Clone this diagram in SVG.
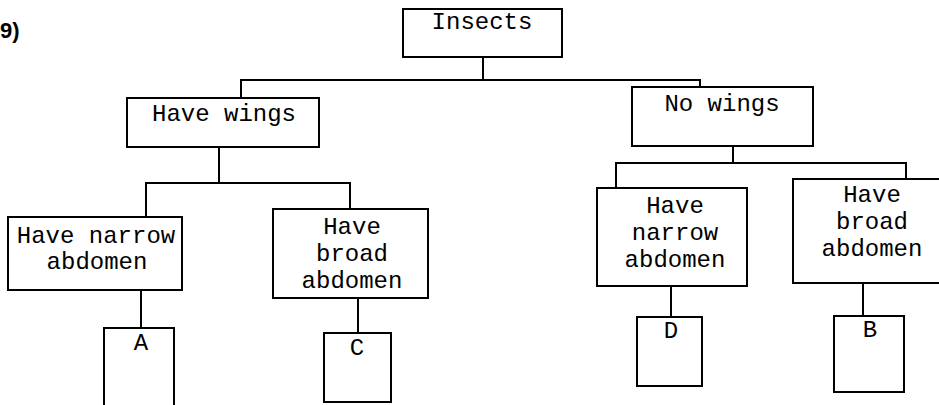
<svg xmlns="http://www.w3.org/2000/svg" width="939" height="405" viewBox="0 0 939 405">
<style>
.box{fill:none;stroke:#000;stroke-width:2}
.t{font-family:"Liberation Mono","Courier New",monospace;font-size:24px;fill:#000;text-anchor:middle}
.c line{stroke:#000;stroke-width:2}
</style>
<rect width="939" height="405" fill="#fff"/>
<text x="0" y="38" font-family="Liberation Sans, Arial, sans-serif" font-size="22" font-weight="bold">9)</text>
<g class="c" id="connectors">
<line x1="483" y1="57" x2="483" y2="80"/>
<line x1="240" y1="80" x2="701" y2="80"/>
<line x1="241" y1="80" x2="241" y2="98"/>
<line x1="700" y1="80" x2="700" y2="87"/>
<line x1="219" y1="147" x2="219" y2="183"/>
<line x1="145" y1="183" x2="351" y2="183"/>
<line x1="146" y1="183" x2="146" y2="217"/>
<line x1="350" y1="183" x2="350" y2="209"/>
<line x1="141" y1="290" x2="141" y2="328"/>
<line x1="358" y1="298" x2="358" y2="333"/>
<line x1="733" y1="146" x2="733" y2="163"/>
<line x1="615" y1="163" x2="907" y2="163"/>
<line x1="616" y1="163" x2="616" y2="188"/>
<line x1="906" y1="163" x2="906" y2="179"/>
<line x1="671" y1="286" x2="671" y2="317"/>
<line x1="863" y1="283" x2="863" y2="316"/>
</g>
<g id="insects"><rect class="box" x="403" y="9" width="159" height="48"/><text class="t" x="482" y="29">Insects</text></g>
<g id="have-wings"><rect class="box" x="127" y="98" width="192" height="49"/><text class="t" x="224" y="121">Have wings</text></g>
<g id="no-wings"><rect class="box" x="632" y="87" width="181" height="59"/><text class="t" x="722" y="111">No wings</text></g>
<g id="narrow-left"><rect class="box" x="8" y="217" width="174" height="73"/><text class="t" x="96" y="243">Have narrow</text><text class="t" x="97" y="269">abdomen</text></g>
<g id="broad-left"><rect class="box" x="273" y="209" width="155" height="89"/><text class="t" x="352" y="234">Have</text><text class="t" x="352" y="261">broad</text><text class="t" x="352" y="288">abdomen</text></g>
<g id="narrow-right"><rect class="box" x="597" y="188" width="150" height="98"/><text class="t" x="675" y="213">Have</text><text class="t" x="675" y="240">narrow</text><text class="t" x="675" y="267">abdomen</text></g>
<g id="broad-right"><rect class="box" x="793" y="179" width="160" height="104"/><text class="t" x="872" y="202">Have</text><text class="t" x="872" y="229">broad</text><text class="t" x="872" y="256">abdomen</text></g>
<g id="A"><rect class="box" x="104" y="328" width="70" height="90"/><text class="t" x="141" y="350">A</text></g>
<g id="C"><rect class="box" x="324" y="333" width="67" height="69"/><text class="t" x="357" y="355">C</text></g>
<g id="D"><rect class="box" x="637" y="317" width="65" height="69"/><text class="t" x="671" y="338">D</text></g>
<g id="B"><rect class="box" x="834" y="316" width="70" height="76"/><text class="t" x="870" y="337">B</text></g>
</svg>
